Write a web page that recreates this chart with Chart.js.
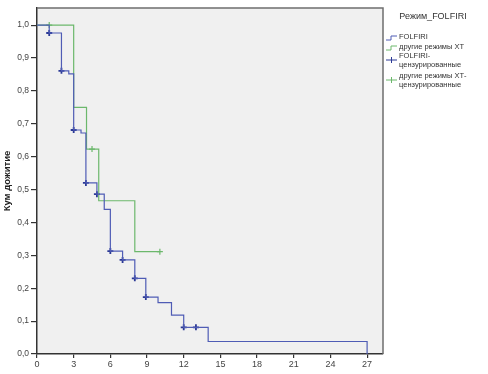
<!DOCTYPE html>
<html>
<head>
<meta charset="utf-8">
<script src="https://cdn.jsdelivr.net/npm/chart.js@4"></script>
<style>
  html, body { margin: 0; padding: 0; background: #fff; }
  #wrap { width: 488px; height: 374px; }
</style>
</head>
<body>
<div id="wrap"><canvas id="chart-1" width="488" height="374"></canvas></div>
<script>
// Kaplan-Meier steps
var folfiri_time = [0, 1, 2, 2.6, 3, 3.6, 4, 4.9, 5.5, 6, 7, 8, 8.9, 9.9, 11, 12, 14, 27, 27];
var folfiri_surv = [1.0, 0.976, 0.861, 0.852, 0.681, 0.672, 0.52, 0.486, 0.44, 0.313, 0.286, 0.23, 0.173, 0.156, 0.118, 0.081, 0.038, 0.038, 0];
var other_time = [0, 3, 4.05, 5.05, 8, 10.05];
var other_surv = [1.0, 0.75, 0.623, 0.466, 0.311, 0.311];

// censored marks
var folfiri_cens_time = [1, 2, 3, 4, 4.9, 6, 7, 8, 8.9, 12, 13];
var folfiri_cens_surv = [0.976, 0.861, 0.681, 0.52, 0.486, 0.313, 0.286, 0.23, 0.173, 0.081, 0.081];
var other_cens_time = [1, 4.5, 10.05];
var other_cens_surv = [1.0, 0.623, 0.311];

var x_ticks = [0, 3, 6, 9, 12, 15, 18, 21, 24, 27];
var legend_title = "Режим_FOLFIRI";
var legend_labels = [
    ["FOLFIRI"],
    ["другие режимы ХТ"],
    ["FOLFIRI-", "цензурированные"],
    ["другие режимы ХТ-", "цензурированные"]
];

var blue = "#4f5cb5";
var blue_dark = "#2c3a96";
var green = "#6cb86c";

function toPoints(xs, ys) {
    var out = [];
    for (let i = 0; i < xs.length; i++) {
        out.push({ x: xs[i], y: ys[i] });
    }
    return out;
}

var bgPlugin = {
    id: "plotBg",
    beforeDraw: function(chart) {
        var a = chart.chartArea;
        var c = chart.ctx;
        c.save();
        c.fillStyle = "#f0f0f0";
        c.fillRect(a.left, a.top, a.right - a.left, a.bottom - a.top);
        c.restore();
    },
    afterDraw: function(chart) {
        var a = chart.chartArea;
        var c = chart.ctx;
        c.save();
        c.strokeStyle = "#6e6e6e";
        c.lineWidth = 1.5;
        c.beginPath();
        c.moveTo(a.left, a.top);
        c.lineTo(a.right, a.top);
        c.lineTo(a.right, a.bottom);
        c.stroke();

        // legend
        var lx = a.right + 3;
        c.fillStyle = "#333";
        c.font = "9px 'Liberation Sans', Arial, sans-serif";
        c.textAlign = "center";
        c.textBaseline = "middle";
        c.fillText(legend_title, 433, 17);
        c.font = "7.5px 'Liberation Sans', Arial, sans-serif";
        c.textAlign = "left";
        var rows = [37, 47, 60, 80];
        var cols = [blue, green, blue_dark, green];
        for (let i = 0; i < legend_labels.length; i++) {
            var y = rows[i];
            c.strokeStyle = cols[i];
            c.lineWidth = 1;
            c.beginPath();
            if (i < 2) {
                c.moveTo(lx, y + 3);
                c.lineTo(lx + 5, y + 3);
                c.lineTo(lx + 5, y - 1);
                c.lineTo(lx + 11, y - 1);
            } else {
                c.moveTo(lx, y);
                c.lineTo(lx + 11, y);
                c.moveTo(lx + 5.5, y - 3);
                c.lineTo(lx + 5.5, y + 3);
            }
            c.stroke();
            var lines = legend_labels[i];
            var y0 = y - (lines.length - 1) * 4.5;
            c.fillStyle = "#333";
            for (let j = 0; j < lines.length; j++) {
                c.fillText(lines[j], lx + 13, y0 + j * 9);
            }
        }
        c.restore();
    }
};

const ctx = document.getElementById("chart-1").getContext("2d");
const myChart = new Chart(ctx, {
    type: "line",
    data: {
        datasets: [{
            label: "FOLFIRI",
            data: toPoints(folfiri_time, folfiri_surv),
            stepped: "before",
            borderColor: blue,
            borderWidth: 1.2,
            pointRadius: 0,
            fill: false,
        }, {
            label: "другие режимы ХТ",
            data: toPoints(other_time, other_surv),
            stepped: "before",
            borderColor: green,
            borderWidth: 1.2,
            pointRadius: 0,
            fill: false,
        }, {
            label: "FOLFIRI-цензурированные",
            data: toPoints(folfiri_cens_time, folfiri_cens_surv),
            showLine: false,
            pointStyle: "cross",
            pointRadius: 3,
            pointBorderWidth: 1.8,
            borderColor: blue_dark,
            backgroundColor: blue_dark,
        }, {
            label: "другие режимы ХТ-цензурированные",
            data: toPoints(other_cens_time, other_cens_surv),
            showLine: false,
            pointStyle: "cross",
            pointRadius: 3,
            pointBorderWidth: 1.2,
            borderColor: green,
            backgroundColor: green,
        }],
    },
    plugins: [bgPlugin],
    options: {
        responsive: false,
        animation: false,
        layout: {
            padding: { top: 8, right: 105, left: 0, bottom: 0 },
        },
        plugins: {
            legend: { display: false },
            tooltip: { enabled: false },
        },
        scales: {
            x: {
                type: "linear",
                min: 0,
                max: 28.3,
                afterFit: function(s) { s.height = 20; },
                afterBuildTicks: function(s) {
                    s.ticks = x_ticks.map(function(v) { return { value: v }; });
                },
                ticks: {
                    color: "#444",
                    font: { size: 9, family: "'Liberation Sans', Arial, sans-serif" },
                    padding: 1,
                    maxRotation: 0,
                },
                grid: { drawOnChartArea: false, drawTicks: true, tickLength: 4, color: "#333", lineWidth: 1.2 },
                border: { display: true, color: "#333", width: 1.5 },
            },
            y: {
                type: "linear",
                min: 0,
                max: 1.052,
                afterFit: function(s) { s.width = 37; },
                ticks: {
                    stepSize: 0.1,
                    includeBounds: false,
                    color: "#444",
                    font: { size: 8.5, family: "'Liberation Sans', Arial, sans-serif" },
                    padding: 2,
                    callback: function(v) { return v.toFixed(1).replace(".", ","); },
                },
                title: {
                    display: true,
                    text: "Кум дожитие",
                    color: "#222",
                    font: { size: 9.5, weight: "bold", family: "'Liberation Sans', Arial, sans-serif" },
                    padding: { top: 2, bottom: 0 },
                },
                grid: { drawOnChartArea: false, drawTicks: true, tickLength: 6, color: "#333", lineWidth: 1.2 },
                border: { display: true, color: "#333", width: 1.5 },
            },
        },
    },
});
</script>
</body>
</html>
